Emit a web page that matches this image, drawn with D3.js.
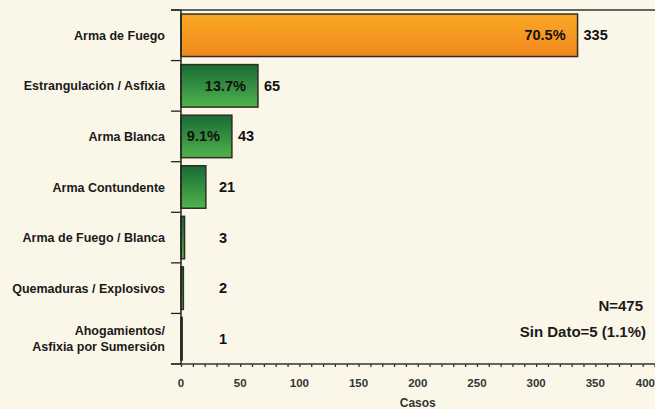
<!DOCTYPE html>
<html>
<head>
<meta charset="utf-8">
<script src="https://cdn.jsdelivr.net/npm/d3@7"></script>
<style>
  body { margin: 0; background: #fbf7e8; }
  svg { display: block; font-family: "Liberation Sans", Arial, sans-serif; font-weight: bold; }
</style>
</head>
<body>
<script>
var categories = ["Arma de Fuego", "Estrangulación / Asfixia", "Arma Blanca", "Arma Contundente",
                  "Arma de Fuego / Blanca", "Quemaduras / Explosivos", "Ahogamientos/\nAsfixia por Sumersión"];
var casos = [335, 65, 43, 21, 3, 2, 1];
var porcentajes = ["70.5%", "13.7%", "9.1%", "", "", "", ""];
var xTicks = [0, 50, 100, 150, 200, 250, 300, 350, 400];
var notas = ["N=475", "Sin Dato=5 (1.1%)"];

var W = 655, H = 409;
var margin = {top: 10, right: 0, bottom: 45, left: 181};

var svg = d3.select("body").append("svg").attr("width", W).attr("height", H);

// gradients for bars
var defs = svg.append("defs");
var gOr = defs.append("linearGradient").attr("id", "gOrange").attr("x1", 0).attr("y1", 0).attr("x2", 0).attr("y2", 1);
gOr.append("stop").attr("offset", "0%").attr("stop-color", "#faa824");
gOr.append("stop").attr("offset", "100%").attr("stop-color", "#f2881e");
var gGr = defs.append("linearGradient").attr("id", "gGreen").attr("x1", 0).attr("y1", 0).attr("x2", 0).attr("y2", 1);
gGr.append("stop").attr("offset", "0%").attr("stop-color", "#1a6a35");
gGr.append("stop").attr("offset", "100%").attr("stop-color", "#4fb34c");

var x = d3.scaleLinear().domain([0, 400]).range([margin.left, W - 0.5]);
var y = d3.scaleBand().domain(categories).range([margin.top, H - margin.bottom]).paddingInner(0.16).paddingOuter(0.08);
var yb = d3.scaleBand().domain(categories).range([margin.top, H - margin.bottom]);

// top border line
svg.append("line")
  .attr("x1", margin.left - 10).attr("x2", W)
  .attr("y1", margin.top).attr("y2", margin.top)
  .attr("stroke", "#333").attr("stroke-width", 1.5);

// bars
svg.selectAll("rect.bar")
  .data(casos)
  .enter().append("rect")
    .attr("class", "bar")
    .attr("x", x(0))
    .attr("y", function(d, i){ return y(categories[i]); })
    .attr("width", function(d){ return x(d) - x(0); })
    .attr("height", y.bandwidth())
    .attr("fill", function(d, i){ return i == 0 ? "url(#gOrange)" : "url(#gGreen)"; })
    .attr("stroke", "#2e2e22")
    .attr("stroke-width", 1.5);

// percent labels inside
svg.selectAll("text.pct")
  .data(porcentajes)
  .enter().append("text")
    .attr("class", "pct")
    .attr("x", function(d, i){ return x(casos[i]) - 12; })
    .attr("y", function(d, i){ return y(categories[i]) + y.bandwidth() / 2 + 5; })
    .attr("text-anchor", "end")
    .attr("font-size", "14.5px")
    .attr("fill", "#111")
    .text(function(d){ return d; });

// count labels
svg.selectAll("text.cnt")
  .data(casos)
  .enter().append("text")
    .attr("class", "cnt")
    .attr("x", function(d){ return Math.max(x(d) + 6, x(0) + 38); })
    .attr("y", function(d, i){ return y(categories[i]) + y.bandwidth() / 2 + 5; })
    .attr("font-size", "14.5px")
    .attr("fill", "#111")
    .text(function(d){ return d; });

// y axis
var yAxis = svg.append("g")
  .attr("transform", "translate(" + x(0) + ",0)");
yAxis.append("line")
  .attr("y1", margin.top).attr("y2", H - margin.bottom)
  .attr("stroke", "#222").attr("stroke-width", 1.5);
var bounds = categories.map(function(c){ return yb(c); }).concat([H - margin.bottom]);
yAxis.selectAll("line.tk")
  .data(bounds)
  .enter().append("line")
    .attr("class", "tk")
    .attr("x1", -10).attr("x2", 0)
    .attr("y1", function(d){ return d; }).attr("y2", function(d){ return d; })
    .attr("stroke", "#222").attr("stroke-width", 1.3);

// category labels
svg.selectAll("text.cat")
  .data(categories)
  .enter().append("text")
    .attr("class", "cat")
    .attr("x", 165)
    .attr("y", function(d){ return yb(d) + yb.bandwidth() / 2; })
    .attr("text-anchor", "end")
    .attr("font-size", "12.5px")
    .attr("fill", "#1a1a1a")
    .each(function(d){
      var lines = d.split("\n");
      var t = d3.select(this);
      lines.forEach(function(l, k){
        t.append("tspan")
          .attr("x", 165)
          .attr("dy", k == 0 ? (4.5 - (lines.length - 1) * 8) : 16)
          .text(l);
      });
    });

// x axis
var xAxis = svg.append("g")
  .attr("transform", "translate(0," + (H - margin.bottom) + ")")
  .call(d3.axisBottom(x).ticks(40).tickSize(3).tickFormat(""));
xAxis.select(".domain").attr("stroke", "#333").attr("stroke-width", 1.5);
xAxis.selectAll(".tick line").attr("stroke", "#333").attr("stroke-width", 1.3);
xAxis.select(".domain").attr("d", "M" + (x(0) - 10) + ",0H" + W);

svg.selectAll("text.xt")
  .data(xTicks)
  .enter().append("text")
    .attr("class", "xt")
    .attr("x", function(d){ return d == 400 ? W : x(d); })
    .attr("y", H - margin.bottom + 23)
    .attr("text-anchor", function(d){ return d == 400 ? "end" : "middle"; })
    .attr("font-size", "11.5px")
    .attr("fill", "#333")
    .text(function(d){ return d; });

svg.append("text")
  .attr("x", x(200))
  .attr("y", H - 2)
  .attr("text-anchor", "middle")
  .attr("font-size", "12px")
  .attr("fill", "#333")
  .text("Casos");

// notes
svg.selectAll("text.nota")
  .data(notas)
  .enter().append("text")
    .attr("class", "nota")
    .attr("x", function(d, i){ return i == 0 ? 643 : 646; })
    .attr("y", function(d, i){ return 311 + i * 26; })
    .attr("text-anchor", "end")
    .attr("font-size", "15px")
    .attr("fill", "#1a1a1a")
    .text(function(d){ return d; });
</script>
</body>
</html>
